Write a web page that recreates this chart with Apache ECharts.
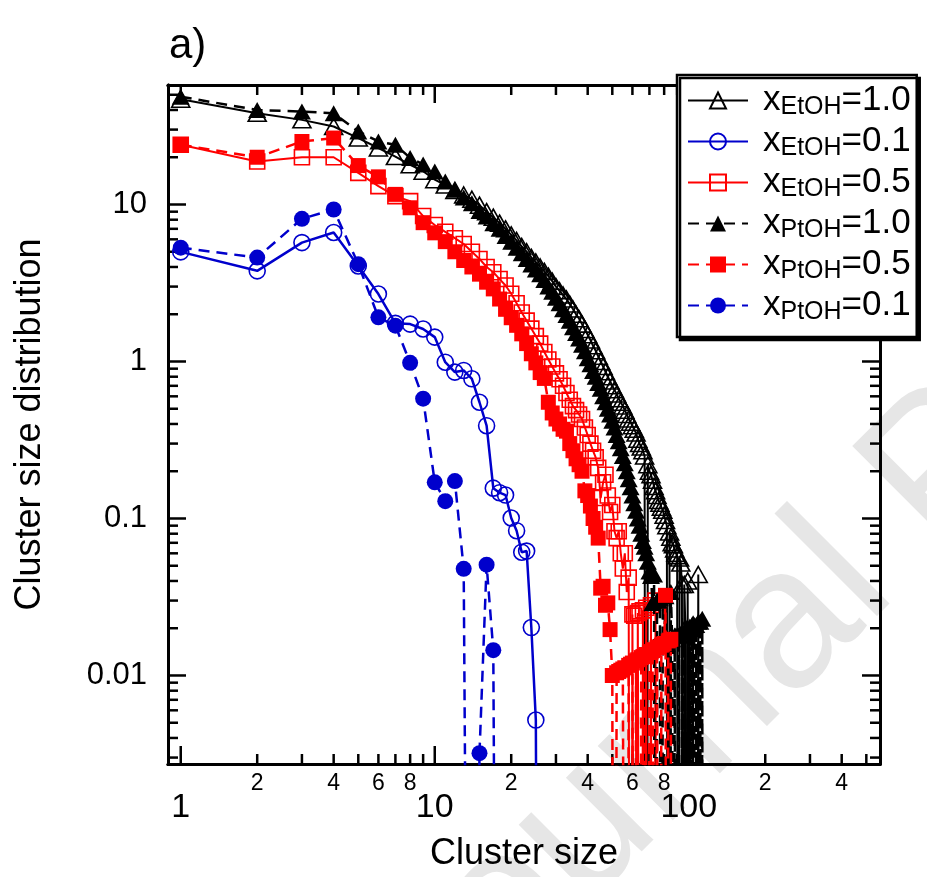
<!DOCTYPE html>
<html><head><meta charset="utf-8">
<script src="https://cdn.jsdelivr.net/npm/echarts@6/dist/echarts.min.js"></script>
<style>html,body{margin:0;padding:0;background:#fff}#c{width:927px;height:877px}</style>
</head><body><div id="c"></div><script>
// ---- tick values (real units) ----
const xMajorTicks = [1, 10, 100];
const xMinorTicks = [2,3,4,5,6,7,8,9,20,30,40,50,60,70,80,90,200,300,400,500];
const xMinorLabels = [2,4,6,8,20,40,60,80,200,400];
const yMajorTicks = [0.01, 0.1, 1, 10];
const yMinorTicks = [0.003,0.004,0.005,0.006,0.007,0.008,0.009,0.02,0.03,0.04,0.05,0.06,0.07,0.08,0.09,
                     0.2,0.3,0.4,0.5,0.6,0.7,0.8,0.9,2,3,4,5,6,7,8,9,20,30,40,50];
// ---- series names ----
const seriesNames = ['x_EtOH=1.0','x_EtOH=0.1','x_EtOH=0.5','x_PtOH=1.0','x_PtOH=0.5','x_PtOH=0.1'];
// ---- values (index i -> cluster size i+1; 0 = no clusters of that size) ----
const etoh10 = [46.8,38.1,34.6,31.4,26.5,22.9,20.2,17.9,16.3,14.4,
 13.3,12.3,11.5,10.8,9.9,9.0,8.3,7.6,7.0,6.4,
 5.9,5.4,5.0,4.6,4.3,4.0,3.75,3.5,3.25,3.0,
 2.82,2.65,2.5,2.32,2.16,2.0,1.87,1.73,1.60,1.48,
 1.37,1.26,1.17,1.08,1.0,0.93,0.86,0.80,0.75,0.70,
 0.66,0.62,0.58,0.55,0.52,0.49,0.46,0.43,0.41,0.39,
 0.37,0.35,0.32,0.30,0.285,0.27,0.25,0,0.22,0.20,
 0.19,0.175,0.16,0.15,0.14,0.13,0.125,0.118,0.113,0.105,
 0.097,0.09,0,0.082,0.076,0.07,0.068,0.064,0.06,0.058,
 0,0.056,0.052,0.038,0,0.038,0.02,0,0.04,0,
 0.02,0,0,0.021,0,0,0,0,0.044,0];
const etoh01 = [4.99,3.78,5.72,6.63,4.06,2.69,1.75,1.73,1.61,1.43,
 0.99,0.856,0.877,0.776,0.55,0.39,0.156,0.146,0.141,0.1007,
 0.0836,0.061,0.062,0.0202,0.0052,0];
const etoh05 = [24.0,18.8,20.0,20.0,15.9,13.1,11.3,10.5,8.44,7.4,
 6.7,6.1,5.6,5.0,4.5,4.0,3.7,3.35,3.05,2.7,
 2.35,2.05,1.82,1.62,1.45,1.3,1.15,1.03,0.93,0.84,
 0.77,0.70,0.63,0.57,0.52,0.49,0.46,0.43,0.38,0.34,
 0.30,0.27,0.245,0.21,0.135,0.17,0.19,0.14,0.11,0.122,
 0.083,0.075,0.083,0.06,0.048,0.06,0.034,0.042,0,0.0245,
 0.024,0,0.025,0.0256,0,0.026,0,0.027,0,0,
 0.028,0,0,0.03,0];
const ptoh10 = [48.6,40.0,39.1,38.1,29.2,25.2,24.0,19.8,18.0,16.2,
 14.0,12.4,11.1,10.2,9.1,8.4,7.6,7.0,6.3,5.8,
 5.3,4.9,4.5,4.15,3.85,3.6,3.3,3.0,2.78,2.55,
 2.35,2.15,1.98,1.82,1.65,1.52,1.40,1.28,1.16,1.05,
 0.96,0.87,0.80,0.73,0.67,0.60,0.55,0.50,0.46,0.42,
 0.38,0.34,0.31,0.28,0.25,0.225,0.2,0.178,0.158,0.14,
 0.125,0.112,0.10,0.09,0.08,0.072,0.066,0.06,0.053,0.046,
 0.043,0.029,0.044,0,0.03,0.03,0.031,0,0.032,0.016,
 0.032,0.016,0.017,0,0.034,0.017,0,0.018,0.018,0,
 0.018,0.018,0,0.019,0,0.019,0.019,0,0.02,0,
 0.02,0,0.021,0,0.021,0,0.021,0,0.022,0,
 0.022,0,0.023,0];
const ptoh05 = [24.0,20.0,25.2,26.5,17.7,15.0,11.6,9.53,7.66,6.6,
 5.8,5.0,4.4,4.0,3.6,3.2,2.9,2.5,2.15,1.9,
 1.7,1.5,1.3,1.12,0.98,0.85,0.78,0.55,0.47,0.43,
 0.40,0.37,0.36,0.30,0.27,0.24,0.22,0.20,0.15,0.14,
 0.12,0.10,0.088,0.075,0.036,0.037,0.028,0.029,0.0196,0.010,
 0,0.0104,0.0106,0.0108,0.011,0.0112,0,0.0116,0.0118,0.012,
 0,0.0124,0.0126,0,0.013,0.0132,0.0134,0.0136,0,0.014,
 0.0142,0.0144,0.0146,0,0.015,0.0152,0,0.0156,0.0158,0.016,
 0.0324,0,0.0166,0.0168,0.017,0];
const ptoh01 = [5.31,4.59,8.11,9.29,4.17,1.91,1.69,0.98,0.58,0.170,
 0.129,0.173,0.0478,0,0.0032,0.0508,0.0145,0];

// ---- axis ranges ----
const XMIN = 0.891, XMAX = 566, YMIN = 0.00273, YMAX = 57.7;
const ZERO_PLOT = 1e-9; // zero counts fall off the bottom of the log axis (clipped)

function toPoints(vals){
  return vals.map((v,i)=> v>0 ? [i+1, v] : {value:[i+1, ZERO_PLOT], symbolSize:0});
}
const BLACK='#000000', BLUE='#0000cc', RED='#ff0000';
const DASH=[11,7];
function mkSeries(name, vals, color, symbol, size, filled, dashed, lw, z){
  return {
    name, type:'line', xAxisIndex:0, yAxisIndex:0, data: toPoints(vals), symbol, symbolSize:size, showSymbol:true,
    clip:true, z,
    lineStyle:{color, width:lw, type: dashed?DASH:'solid'},
    itemStyle: filled ? {color, borderWidth:0} : {color:'rgba(255,255,255,0)', borderColor:color, borderWidth:1.6}
  };
}
const series = [
  mkSeries(seriesNames[0], etoh10, BLACK, 'triangle', [18,16], false, false, 2, 2),
  mkSeries(seriesNames[1], etoh01, BLUE, 'circle', 16, false, false, 2.5, 2),
  mkSeries(seriesNames[2], etoh05, RED, 'rect', 15, false, false, 2, 2),
  mkSeries(seriesNames[3], ptoh10, BLACK, 'triangle', [18,16], true, true, 2.5, 3),
  mkSeries(seriesNames[4], ptoh05, RED, 'rect', 15, true, true, 2.5, 3),
  mkSeries(seriesNames[5], ptoh01, BLUE, 'circle', 16, true, true, 2.5, 3)
];

// ---- inward tick marks, placed through the log axes with a custom series ----
function tickSeries(side, values, len){
  const data = values.map(v => side==='bottom' ? [v, YMIN] : side==='top' ? [v, YMAX] : side==='left' ? [XMIN, v] : [XMAX, v]);
  const dir = {bottom:[0,-1], top:[0,1], left:[1,0], right:[-1,0]}[side];
  return {
    type:'custom', xAxisIndex:0, yAxisIndex:0, data, silent:true, animation:false, z:1, clip:false,
    renderItem: function(params, api){
      const p = api.coord([api.value(0), api.value(1)]);
      return {type:'line', shape:{x1:p[0], y1:p[1], x2:p[0]+dir[0]*len, y2:p[1]+dir[1]*len},
              style:{stroke:'#000', lineWidth:2.5}};
    }
  };
}
series.push(
  tickSeries('bottom', xMajorTicks, 18), tickSeries('bottom', xMinorTicks, 10),
  tickSeries('top', xMajorTicks, 18), tickSeries('top', xMinorTicks, 10),
  tickSeries('left', yMajorTicks, 18), tickSeries('left', yMinorTicks, 10),
  tickSeries('right', yMajorTicks, 18), tickSeries('right', yMinorTicks, 10)
);

const FONT = 'Liberation Sans, Arial, sans-serif';
const lg = v => Math.log10(v);
const fmtFull = v => String(Number(Math.pow(10, v).toPrecision(3)));
const fmtLead = v => { const x = Math.pow(10, v); const p = Math.pow(10, Math.floor(Math.log10(x) + 1e-9)); return String(Math.round(x / p)); };

const DUMMY = 5; // index of an invisible axis that never crosses zero (keeps frame axes on the frame)
// log axes carry the data
function logAx(kind, pos){
  return {
    type:'log', logBase:10, position:pos,
    min: kind==='x'?XMIN:YMIN, max: kind==='x'?XMAX:YMAX,
    splitLine:{show:false}, axisLine:{show:false, onZeroAxisIndex:DUMMY}, axisTick:{show:false}, axisLabel:{show:false}
  };
}
// overlay value axes (log10 units, same extent) carry frame lines & labels
function frameAx(kind, pos, labels, fs, margin, fmt, extra){
  const lo = kind==='x'?lg(XMIN):lg(YMIN), hi = kind==='x'?lg(XMAX):lg(YMAX);
  return Object.assign({
    type:'value', position:pos, min:lo, max:hi,
    splitLine:{show:false},
    axisLine:{show:true, onZeroAxisIndex:DUMMY, lineStyle:{color:'#000', width:3}},
    axisTick:{show:false},
    axisLabel: labels ? {show:true, customValues:labels.map(lg), formatter:fmt, fontSize:fs, color:'#000', margin, fontFamily:FONT}
                      : {show:false}
  }, extra||{});
}
const dummyAx = {type:'value', min:1, max:2, show:false};

const option = {
  backgroundColor:'#fff',
  title:{text:'a)', left:164, top:20, textStyle:{fontSize:42, fontWeight:'normal', color:'#000', fontFamily:FONT}},
  grid:{left:168, right:47, top:85, bottom:110},
  graphic:[{
    type:'text', x:396, y:1019, rotation:Math.PI/4, z:-10, silent:true,
    style:{text:'Journal Pre-proof', font:'200px "Liberation Sans", Arial, sans-serif', fill:'#e6e6e6', align:'left', verticalAlign:'middle'}
  }],
  xAxis:[
    logAx('x','bottom'),
    frameAx('x','bottom', xMajorTicks, 34, 27, fmtFull,
      {name:'Cluster size', nameLocation:'middle', nameGap:72, nameTextStyle:{fontSize:36, color:'#000', fontFamily:FONT}}),
    frameAx('x','bottom', xMinorLabels, 23, 8, fmtLead),
    frameAx('x','top', null),
    frameAx('x','top', null),
    dummyAx
  ],
  yAxis:[
    logAx('y','left'),
    frameAx('y','left', yMajorTicks, 31, 21, fmtFull,
      {name:'Cluster size distribution', nameLocation:'middle', nameGap:120, nameTextStyle:{fontSize:36, color:'#000', fontFamily:FONT}}),
    frameAx('y','left', null),
    frameAx('y','right', null),
    frameAx('y','right', null),
    dummyAx
  ],
  legend:{
    show:true, orient:'vertical', left:677, top:75,
    data: seriesNames,
    itemWidth:60, itemHeight:20, itemGap:2,
    padding:[6,6,12,10],
    backgroundColor:'#fff', borderColor:'#000', borderWidth:2.5, borderRadius:0,
    shadowColor:'#000', shadowOffsetX:3, shadowOffsetY:3, shadowBlur:0,
    selectedMode:false,
    formatter: function(name){
      const m = name.match(/^x_(\w+)=(.*)$/);
      return '{m|x}{s|' + m[1] + '}{m|=' + m[2] + '}';
    },
    textStyle:{
      color:'#000', fontFamily:FONT, padding:[0,0,0,10],
      rich:{
        m:{fontSize:35, fontFamily:FONT, color:'#000', lineHeight:40},
        s:{fontSize:25, fontFamily:FONT, color:'#000', lineHeight:40, padding:[14,0,0,0]}
      }
    }
  },
  series
};
const chart = echarts.init(document.getElementById('c'));
chart.setOption(option);
</script></body></html>
